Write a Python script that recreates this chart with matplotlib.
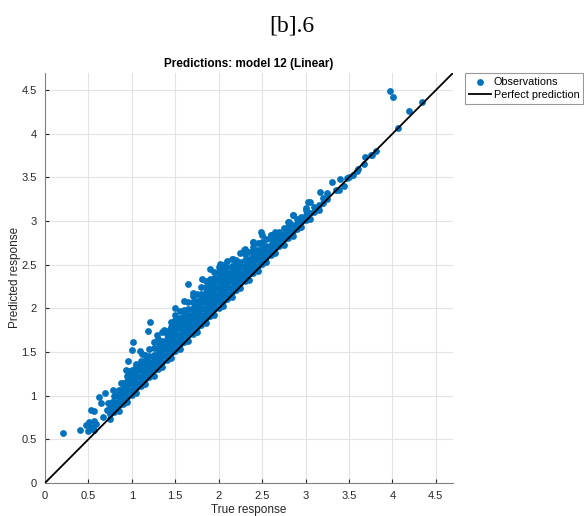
import matplotlib.pyplot as plt

plt.rcParams['font.family'] = ['Liberation Sans', 'DejaVu Sans']

# dense band: true response of each column and the predicted values in it
band_true = [0.75, 0.80, 0.85, 0.90, 0.95, 1.00, 1.05, 1.10, 1.15, 1.20,
             1.25, 1.30, 1.35, 1.40, 1.45, 1.50, 1.55, 1.60, 1.65, 1.70,
             1.75, 1.80, 1.85, 1.90, 1.95, 2.00, 2.05, 2.10, 2.15, 2.20,
             2.25, 2.30, 2.35, 2.40, 2.45, 2.50, 2.55, 2.60, 2.65, 2.70,
             2.75, 2.80, 2.85, 2.90, 2.95, 3.00, 3.05, 3.10, 3.15, 3.20]
band_pred = [
    [0.73, 0.79, 0.85, 0.90],
    [0.81, 0.87, 0.93, 1.00],
    [0.83, 0.89, 0.95, 1.01, 1.07],
    [0.91, 0.97, 1.03, 1.09, 1.15],
    [0.93, 0.99, 1.05, 1.11, 1.17, 1.22],
    [1.01, 1.07, 1.13, 1.19, 1.25, 1.30],
    [1.03, 1.09, 1.15, 1.21, 1.27, 1.33],
    [1.11, 1.17, 1.23, 1.29, 1.35, 1.40],
    [1.13, 1.19, 1.25, 1.31, 1.37, 1.47],
    [1.21, 1.27, 1.33, 1.39, 1.45, 1.53],
    [1.23, 1.29, 1.35, 1.41, 1.47, 1.55],
    [1.31, 1.37, 1.43, 1.49, 1.55, 1.61, 1.65],
    [1.33, 1.39, 1.45, 1.51, 1.57, 1.63, 1.73],
    [1.41, 1.47, 1.53, 1.59, 1.65, 1.71, 1.74],
    [1.43, 1.49, 1.55, 1.61, 1.67, 1.73, 1.79, 1.85],
    [1.51, 1.57, 1.63, 1.69, 1.75, 1.81, 1.87, 1.92],
    [1.53, 1.59, 1.65, 1.71, 1.77, 1.83, 1.89, 1.97],
    [1.61, 1.67, 1.73, 1.79, 1.85, 1.91, 1.98],
    [1.63, 1.69, 1.75, 1.81, 1.87, 1.93, 1.99, 2.07],
    [1.71, 1.77, 1.83, 1.89, 1.95, 2.01, 2.07, 2.14],
    [1.73, 1.79, 1.85, 1.91, 1.97, 2.03, 2.09, 2.17],
    [1.81, 1.87, 1.93, 1.99, 2.05, 2.11, 2.17, 2.25],
    [1.83, 1.89, 1.95, 2.01, 2.07, 2.13, 2.19, 2.25, 2.31],
    [1.91, 1.97, 2.03, 2.09, 2.15, 2.21, 2.27, 2.34],
    [1.93, 1.99, 2.05, 2.11, 2.17, 2.23, 2.29, 2.35, 2.42],
    [2.01, 2.07, 2.13, 2.19, 2.25, 2.31, 2.37, 2.43, 2.48],
    [2.03, 2.09, 2.15, 2.21, 2.27, 2.33, 2.39, 2.45, 2.50],
    [2.11, 2.17, 2.23, 2.29, 2.35, 2.41, 2.47, 2.54],
    [2.13, 2.19, 2.25, 2.31, 2.37, 2.43, 2.49, 2.57],
    [2.21, 2.27, 2.33, 2.39, 2.45, 2.51, 2.56],
    [2.23, 2.29, 2.35, 2.41, 2.47, 2.53, 2.63],
    [2.31, 2.37, 2.43, 2.49, 2.55, 2.62, 2.68],
    [2.33, 2.39, 2.45, 2.51, 2.57, 2.65],
    [2.41, 2.47, 2.53, 2.59, 2.65, 2.70, 2.76],
    [2.43, 2.49, 2.55, 2.61, 2.67, 2.75],
    [2.51, 2.57, 2.63, 2.69, 2.76, 2.84],
    [2.53, 2.59, 2.65, 2.71, 2.80],
    [2.61, 2.67, 2.73, 2.79, 2.84],
    [2.63, 2.69, 2.75, 2.82, 2.87],
    [2.71, 2.77, 2.83, 2.88],
    [2.73, 2.79, 2.85, 2.92],
    [2.81, 2.87, 2.93, 2.99],
    [2.83, 2.89, 2.96, 3.07],
    [2.91, 2.97, 3.02],
    [2.93, 2.99, 3.05],
    [3.01, 3.07, 3.13],
    [3.03, 3.09, 3.22],
    [3.11, 3.16],
    [3.13, 3.19],
    [3.21, 3.26],
]

# scattered observations outside the dense band
sparse_true = [0.21, 0.40, 0.47, 0.49, 0.53, 0.57, 0.51, 0.57, 0.59, 0.53,
               0.57, 0.67, 0.65, 0.71, 0.75, 0.62, 0.69, 0.78, 0.77, 0.73,
               0.82, 0.88, 0.96, 1.00, 1.01, 1.09, 1.21, 1.19, 1.29, 1.37,
               1.30, 1.16, 1.05, 0.98, 0.93, 1.12, 1.25, 1.50, 1.60, 1.65,
               1.81, 1.71, 1.90, 2.02, 2.17, 2.29, 2.40, 2.49, 2.60, 2.67,
               2.81, 2.86, 3.01, 3.03, 3.17, 3.25, 3.30, 3.40, 3.44, 3.39,
               3.48, 3.59, 3.60, 3.67, 3.69, 3.75, 3.77, 3.81, 3.97, 4.01,
               4.19, 4.34, 4.06, 3.25, 3.35, 3.50, 3.55]
sparse_pred = [0.57, 0.61, 0.665, 0.59, 0.645, 0.61, 0.70, 0.71, 0.68, 0.84,
               0.83, 0.76, 0.915, 0.84, 0.82, 0.99, 1.03, 1.07, 0.93, 0.915,
               1.01, 1.15, 1.40, 1.52, 1.62, 1.51, 1.84, 1.74, 1.70, 1.75,
               1.55, 1.42, 1.36, 1.28, 1.30, 1.48, 1.62, 2.00, 2.08, 2.28,
               2.34, 2.18, 2.45, 2.51, 2.57, 2.67, 2.76, 2.87, 2.84, 2.86,
               2.99, 3.07, 3.15, 3.22, 3.33, 3.32, 3.45, 3.48, 3.40, 3.36,
               3.49, 3.58, 3.60, 3.66, 3.73, 3.76, 3.76, 3.80, 4.49, 4.42,
               4.26, 4.36, 4.07, 3.25, 3.36, 3.50, 3.53]

ticks = [0, 0.5, 1, 1.5, 2, 2.5, 3, 3.5, 4, 4.5]
tick_labels = ['0', '0.5', '1', '1.5', '2', '2.5', '3', '3.5', '4', '4.5']

obs_true = []
obs_pred = []
for x, col in zip(band_true, band_pred):
    for y in col:
        obs_true.append(x)
        obs_pred.append(y)
obs_true += sparse_true
obs_pred += sparse_pred

fig = plt.figure(figsize=(5.84, 5.16), dpi=100)
ax = fig.add_axes([0.077, 0.064, 0.699, 0.795])

ax.scatter(obs_true, obs_pred, s=24, color='#0072BD', linewidths=0,
           label='Observations', zorder=2)
ax.plot([0, 4.7], [0, 4.7], color='black', lw=1.3,
        label='Perfect prediction', zorder=3)

ax.set_xlim(0, 4.7)
ax.set_ylim(0, 4.7)
ax.set_xticks(ticks)
ax.set_xticklabels(tick_labels)
ax.set_yticks(ticks)
ax.set_yticklabels(tick_labels)
ax.grid(True, color='#e3e3e3', lw=0.8)
ax.set_axisbelow(True)
for side in ['top', 'right']:
    ax.spines[side].set_visible(False)
for side in ['left', 'bottom']:
    ax.spines[side].set_color('#808080')
ax.tick_params(direction='in', length=3, labelsize=8, colors='#262626',
               pad=6)

ax.set_title('Predictions: model 12 (Linear)', fontsize=8.5,
             fontweight='bold', pad=4)
ax.set_xlabel('True response', fontsize=8.5, color='#262626', labelpad=2)
ax.set_ylabel('Predicted response', fontsize=8.5, color='#262626',
              labelpad=0)

leg = ax.legend(loc='upper left', bbox_to_anchor=(1.03, 1.0), fontsize=7.8,
                frameon=True, fancybox=False, borderaxespad=0,
                handlelength=2.0, handletextpad=0.25, borderpad=0.35,
                labelspacing=0.3)
leg.get_frame().set_edgecolor('#808080')
leg.get_frame().set_linewidth(0.8)

fig.text(0.5, 0.95, '[b].6', ha='center', va='center', fontsize=17,
         family='Liberation Serif')

fig.savefig('out.png', dpi=100)
